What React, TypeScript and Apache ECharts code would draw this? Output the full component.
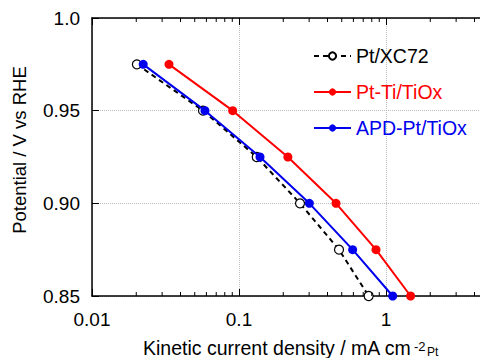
import React, { useEffect, useRef } from "react";
import * as echarts from "echarts";

const seriesNames = ["Pt/XC72", "Pt-Ti/TiOx", "APD-Pt/TiOx"];
const potentials = [0.975, 0.95, 0.925, 0.9, 0.875, 0.85];
const ptXC72 = [0.0202, 0.0569, 0.132, 0.26, 0.479, 0.762];
const ptTiTiOx = [0.0334, 0.0906, 0.215, 0.457, 0.855, 1.47];
const apdPtTiOx = [0.0223, 0.0587, 0.139, 0.301, 0.593, 1.11];
const xTickLabels = ["0.01", "0.1", "1"];
const minorTickValues = [
  0.02, 0.03, 0.04, 0.05, 0.06, 0.07, 0.08, 0.09,
  0.2, 0.3, 0.4, 0.5, 0.6, 0.7, 0.8, 0.9,
  2, 3, 4, 5, 6, 7, 8, 9,
];

const RED = "#ff0000";
const BLUE = "#0000ee";
const FONT = "Liberation Sans, Arial, sans-serif";

export default function App() {
  const ref = useRef<HTMLDivElement>(null);
  useEffect(() => {
    if (!ref.current) return;
    const chart = echarts.init(ref.current, null, { renderer: "svg" });
    const pairs = (xs: number[]) => xs.map((x, i) => [x, potentials[i]]);
    const axisCommon = {
      type: "log" as const,
      logBase: 10,
      min: 0.01,
      max: 10,
      axisLine: { show: true, lineStyle: { color: "#000", width: 1.5 } },
      axisTick: { show: true, inside: true, length: 7, lineStyle: { color: "#000", width: 1 } },
    };
    chart.setOption({
      animation: false,
      backgroundColor: "#fff",
      textStyle: { fontFamily: FONT },
      grid: { left: 92, top: 18, width: 441, height: 278, containLabel: false, outerBoundsMode: "none" },
      legend: {
        orient: "vertical",
        left: 308,
        top: 41,
        itemWidth: 37,
        itemHeight: 9,
        itemGap: 16,
        textStyle: { fontSize: 19.5, fontFamily: FONT, color: "#000" },
        data: [
          { name: seriesNames[0], textStyle: { color: "#000" } },
          { name: seriesNames[1], textStyle: { color: RED } },
          { name: seriesNames[2], textStyle: { color: BLUE } },
        ],
      },
      xAxis: [
        {
          ...axisCommon,
          position: "bottom",
          axisLabel: {
            show: true,
            margin: 14,
            fontSize: 19,
            color: "#000",
            fontFamily: FONT,
            formatter: (v: number) => {
              const s = String(v);
              return xTickLabels.includes(s) ? s : "";
            },
          },
          splitLine: { show: true, lineStyle: { color: "#bdbdbd", type: "dotted", width: 1 } },
        },
        {
          ...axisCommon,
          position: "top",
          axisLabel: { show: false },
          splitLine: { show: false },
        },
      ],
      yAxis: {
        type: "value",
        min: 0.85,
        max: 1.0,
        interval: 0.05,
        axisLine: { show: true, lineStyle: { color: "#000", width: 1.5 } },
        axisTick: { show: true, inside: true, length: 7, lineStyle: { color: "#000" } },
        axisLabel: {
          margin: 12,
          fontSize: 19,
          color: "#000",
          fontFamily: FONT,
          formatter: (v: number) => (Math.abs(v - 1) < 1e-9 ? "1.0" : v.toFixed(2)),
        },
        splitLine: { show: true, lineStyle: { color: "#bdbdbd", type: "dotted", width: 1 } },
      },
      graphic: [
        {
          type: "text",
          x: 19,
          y: 150,
          rotation: Math.PI / 2,
          style: {
            text: "Potential / V vs RHE",
            fontSize: 18.5,
            fontFamily: FONT,
            fill: "#000",
            align: "center",
            verticalAlign: "middle",
          },
        },
        {
          type: "text",
          x: 143,
          y: 348,
          style: {
            text: "Kinetic current density / mA cm",
            fontSize: 19.5,
            fontFamily: FONT,
            fill: "#000",
            align: "left",
            verticalAlign: "middle",
          },
        },
        {
          type: "text",
          x: 414,
          y: 346,
          style: { text: "-2", fontSize: 13, fontFamily: FONT, fill: "#000", align: "left", verticalAlign: "middle" },
        },
        {
          type: "text",
          x: 427,
          y: 352,
          style: { text: "Pt", fontSize: 12, fontFamily: FONT, fill: "#000", align: "left", verticalAlign: "middle" },
        },
      ],
      series: [
        {
          type: "custom",
          silent: true,
          xAxisIndex: 0,
          yAxisIndex: 0,
          data: minorTickValues.map((v) => [v]),
          renderItem: (_params: any, api: any) => {
            const v = api.value(0);
            const b = api.coord([v, 0.85]);
            const t = api.coord([v, 1.0]);
            const st = { stroke: "#000", lineWidth: 1 };
            return {
              type: "group",
              children: [
                { type: "line", shape: { x1: b[0], y1: b[1], x2: b[0], y2: b[1] - 4 }, style: st },
                { type: "line", shape: { x1: t[0], y1: t[1], x2: t[0], y2: t[1] + 4 }, style: st },
              ],
            };
          },
          z: 5,
        },
        {
          name: seriesNames[0],
          type: "line",
          data: pairs(ptXC72),
          symbol: "circle",
          symbolSize: 9,
          showSymbol: true,
          lineStyle: { color: "#000", width: 2, type: [5, 4] },
          itemStyle: { color: "#fff", borderColor: "#000", borderWidth: 1.2 },
          z: 3,
        },
        {
          name: seriesNames[1],
          type: "line",
          data: pairs(ptTiTiOx),
          symbol: "circle",
          symbolSize: 9,
          lineStyle: { color: RED, width: 2 },
          itemStyle: { color: RED },
          z: 3,
        },
        {
          name: seriesNames[2],
          type: "line",
          data: pairs(apdPtTiOx),
          symbol: "circle",
          symbolSize: 9,
          lineStyle: { color: BLUE, width: 2 },
          itemStyle: { color: BLUE },
          z: 4,
        },
      ],
    });
    return () => chart.dispose();
  }, []);
  return <div ref={ref} style={{ width: 480, height: 358, position: "absolute", left: 0, top: 0 }} />;
}
